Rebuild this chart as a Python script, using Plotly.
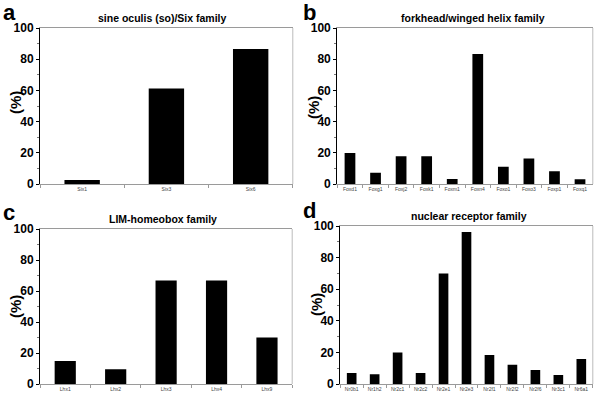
import plotly.graph_objects as go

six_genes = ["Six1", "Six3", "Six6"]
six_vals = [2.5, 61.2, 86.5]

fox_genes = ["Foxd1", "Foxg1", "Foxj2", "Foxk1", "Foxm1", "Foxn4", "Foxo1", "Foxo3", "Foxp1", "Foxq1"]
fox_vals = [19.8, 7.2, 17.8, 17.8, 3.2, 83.3, 11.1, 16.4, 8.1, 3.0]

lhx_genes = ["Lhx1", "Lhx2", "Lhx3", "Lhx4", "Lhx9"]
lhx_vals = [14.9, 9.5, 66.8, 66.8, 30.0]

nr_genes = ["Nr0b1", "Nr1h2", "Nr2c1", "Nr2c2", "Nr2e1", "Nr2e3", "Nr2f1", "Nr2f2", "Nr2f6", "Nr3c1", "Nr6a1"]
nr_vals = [7.0, 6.1, 20.0, 7.0, 70.0, 96.2, 18.4, 12.2, 8.9, 5.7, 15.8]

titles = ["sine oculis (so)/Six family", "forkhead/winged helix family",
          "LIM-homeobox family", "nuclear receptor family"]
letters = ["a", "b", "c", "d"]

panels = [
    (six_genes, six_vals, [0.0667, 0.488], [0.54, 0.93]),
    (fox_genes, fox_vals, [0.562, 0.988], [0.54, 0.93]),
    (lhx_genes, lhx_vals, [0.0667, 0.487], [0.04, 0.4275]),
    (nr_genes, nr_vals, [0.567, 0.988], [0.04, 0.435]),
]

FONT = "Liberation Sans, Arial, sans-serif"
fig = go.Figure()
layout = dict(
    width=600, height=400, margin=dict(l=0, r=0, t=0, b=0, autoexpand=False),
    paper_bgcolor="white", plot_bgcolor="white", showlegend=False,
    bargap=0.58, font=dict(family=FONT, color="black"),
)
shapes = []
annotations = []

title_pos = [(162, 18), (473, 18), (163, 219), (469, 216)]
letter_pos = [(1, 12), (301, 12), (1, 212), (301, 210)]
pct_pos = [(15, 103), (313, 107), (15, 307), (316, 304)]

for i, (genes, vals, xd, yd) in enumerate(panels):
    n = "" if i == 0 else str(i + 1)
    fig.add_trace(go.Bar(x=genes, y=vals, marker=dict(color="black", line=dict(width=0)),
                         xaxis="x" + n, yaxis="y" + n, width=0.42))
    layout["xaxis" + n] = dict(
        domain=xd, anchor="y" + n, showgrid=False, showline=True,
        linecolor="#9a9a9a", linewidth=1, mirror=True,
        ticks="outside", tickson="boundaries", ticklen=3, tickcolor="#9a9a9a",
        tickangle=0, automargin=False,
        tickfont=dict(size=5, color="#444"), fixedrange=True,
    )
    layout["yaxis" + n] = dict(
        domain=yd, anchor="x" + n, range=[0, 100], dtick=20, showgrid=False,
        showline=True, linecolor="black", linewidth=1, zeroline=False,
        ticks="outside", ticklen=3, tickcolor="black", automargin=False,
        minor=dict(dtick=10, ticks="outside", ticklen=2, tickcolor="#777"),
        tickfont=dict(size=12, family=FONT, weight="bold"),
        fixedrange=True,
    )
    shapes.append(dict(type="line", xref="x" + n + " domain", yref="y" + n + " domain",
                       x0=1, x1=1, y0=0, y1=1, line=dict(color="#bbbbbb", width=1)))
    tx, ty = title_pos[i]
    annotations.append(dict(text=titles[i], x=tx / 600, y=1 - ty / 400, xref="paper", yref="paper",
                            showarrow=False, xanchor="center", yanchor="middle",
                            font=dict(size=10.5, family=FONT, weight="bold")))
    lx, ly = letter_pos[i]
    annotations.append(dict(text=letters[i], x=lx / 600, y=1 - ly / 400, xref="paper", yref="paper",
                            showarrow=False, xanchor="left", yanchor="middle",
                            font=dict(size=22, family=FONT, weight="bold")))
    px, py = pct_pos[i]
    annotations.append(dict(text="(%)", x=px / 600, y=1 - py / 400, xref="paper", yref="paper",
                            showarrow=False, xanchor="center", yanchor="middle", textangle=-90,
                            font=dict(size=15, family=FONT, weight="bold")))

layout["shapes"] = shapes
layout["annotations"] = annotations
fig.update_layout(**layout)
fig.write_html("out.html", config={"displayModeBar": False},
               post_script="document.body.style.margin='0';document.body.style.overflow='hidden';")
